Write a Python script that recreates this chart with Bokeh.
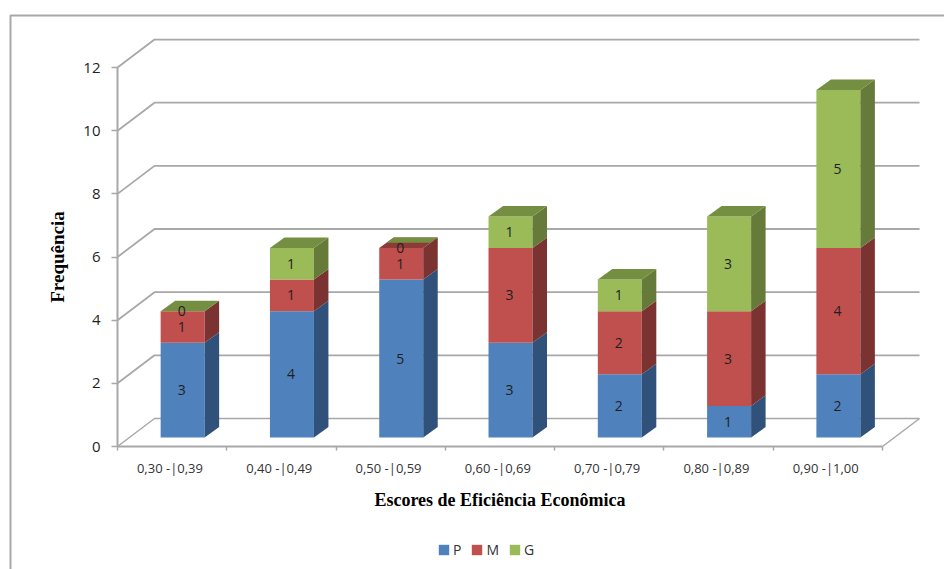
from bokeh.embed import file_html
from bokeh.resources import INLINE
from bokeh.core.properties import value
from bokeh.models import (ColumnDataSource, FixedTicker, Legend, LegendItem,
                          LinearAxis, Range1d)
from bokeh.plotting import figure

# Frequency table
classes = ["0,30 -|0,39", "0,40 -|0,49", "0,50 -|0,59", "0,60 -|0,69",
           "0,70 -|0,79", "0,80 -|0,89", "0,90 -|1,00"]
p_small = [3, 4, 5, 3, 2, 1, 2]
m_medium = [1, 1, 1, 3, 2, 3, 4]
g_large = [0, 1, 0, 1, 1, 3, 5]
y_ticks = list(range(0, 13, 2))
series_names = ["P", "M", "G"]
# Share of the cap that shows the green colour on each stack
green_cap_share = [1, 1, 0.5, 1, 1, 1, 1]

# Page geometry, in pixels
W, H = 944, 569
ORIGIN_X, ORIGIN_Y = 117, 446
PX_PER_CLASS = 109.29
PX_PER_UNIT = 31.58

# Depth of the box and of each column, in data units
WALL_DX, WALL_DY = 37 / PX_PER_CLASS, 28 / PX_PER_UNIT
BAR_W = 44 / PX_PER_CLASS
BAR_DX, BAR_DY = 14.5 / PX_PER_CLASS, 10.5 / PX_PER_UNIT
BAR_SHIFT_X, BAR_BASE = 10.5 / PX_PER_CLASS, 9 / PX_PER_UNIT

BLUE = ("#4F81BD", "#30527A", "#3A608F")
RED = ("#C0504D", "#7A3331", "#8C3B38")
GREEN = ("#9BBB59", "#667A3A", "#748E42")
GRID = "#A8A8A8"
TEXT = "#1F1F1F"


def px_x(px):
    return (px - ORIGIN_X) / PX_PER_CLASS


def px_y(px):
    return (ORIGIN_Y - px) / PX_PER_UNIT


p = figure(width=W, height=H, output_backend="svg", toolbar_location=None,
           x_range=Range1d(px_x(0), px_x(W)), y_range=Range1d(px_y(H), px_y(0)),
           x_axis_type=None, y_axis_type=None, min_border=0,
           outline_line_color=None, background_fill_color="white",
           border_fill_color="white")
p.grid.visible = False

# Outer chart border: left and top edges only reach the page bounds
p.line([px_x(10), px_x(10), px_x(W)], [px_y(H), px_y(15), px_y(15)],
       line_color=GRID, line_width=2)

# Wall gridlines, each with its diagonal onto the side wall
n = len(classes)
for t in y_ticks:
    p.line([0, WALL_DX, n + WALL_DX], [t, t + WALL_DY, t + WALL_DY],
           line_color=GRID, line_width=1.8 if t else 1.5)

# Floor edge on the right
p.line([n, n + WALL_DX], [0, WALL_DY], line_color=GRID, line_width=1.5)

# Stacked columns
stack = [0] * n
fronts = []
for values, (front, side, cap) in zip((p_small, m_medium, g_large), (BLUE, RED, GREEN)):
    xs = [i + 0.5 + BAR_SHIFT_X for i in range(n)]
    bottoms = [BAR_BASE + s for s in stack]
    tops = [b + v for b, v in zip(bottoms, values)]
    r = p.vbar(x=xs, width=BAR_W, bottom=bottoms, top=tops,
               fill_color=front, line_color=None)
    fronts.append(r)
    side_xs, side_ys = [], []
    for x, b, t in zip(xs, bottoms, tops):
        xr = x + BAR_W / 2
        side_xs.append([xr, xr + BAR_DX, xr + BAR_DX, xr])
        side_ys.append([b, b + BAR_DY, t + BAR_DY, t])
    p.patches(side_xs, side_ys, fill_color=side, line_color=None)
    stack = [s + v for s, v in zip(stack, values)]

# Caps on top of each stack
for i, total in enumerate(stack):
    x0 = i + 0.5 + BAR_SHIFT_X - BAR_W / 2
    y0 = BAR_BASE + total
    share = green_cap_share[i]
    if share < 1:
        p.patch([x0, x0 + BAR_W, x0 + BAR_W + BAR_DX, x0 + BAR_DX],
                [y0, y0, y0 + BAR_DY, y0 + BAR_DY],
                fill_color=RED[2], line_color=None)
    lo = 1 - share
    p.patch([x0 + lo * BAR_DX, x0 + BAR_W + lo * BAR_DX, x0 + BAR_W + BAR_DX, x0 + BAR_DX],
            [y0 + lo * BAR_DY, y0 + lo * BAR_DY, y0 + BAR_DY, y0 + BAR_DY],
            fill_color=GREEN[2], line_color=None)

# Value labels centred on each front segment
label_x, label_y, label_text = [], [], []
stack = [0] * n
for values in (p_small, m_medium, g_large):
    for i, v in enumerate(values):
        label_x.append(i + 0.5 + BAR_SHIFT_X - 1 / PX_PER_CLASS)
        label_y.append(BAR_BASE + stack[i] + v / 2)
        label_text.append(str(v))
        stack[i] += v
p.text(x="x", y="y", text="t",
       source=ColumnDataSource(dict(x=label_x, y=label_y, t=label_text)),
       text_font=value("Open Sans"), text_font_size="14px", text_color=TEXT,
       text_align="center", text_baseline="middle")

# Value axis
y_axis = LinearAxis(fixed_location=0, bounds=(0, 12),
                    ticker=FixedTicker(ticks=y_ticks),
                    axis_label="Frequência",
                    axis_label_text_font="Liberation Serif",
                    axis_label_text_font_style="bold",
                    axis_label_text_font_size="19px",
                    axis_label_text_color="#000000",
                    axis_label_standoff=12,
                    major_label_text_font="Open Sans",
                    major_label_text_font_size="15px",
                    major_label_text_color=TEXT,
                    major_label_standoff=11,
                    axis_line_color=GRID, axis_line_width=2,
                    major_tick_line_color=GRID, major_tick_line_width=1.5,
                    major_tick_in=0, major_tick_out=6,
                    minor_tick_line_color=None)
p.add_layout(y_axis, "left")

# Category axis: ticks fall between classes, labels at the class centres
centres = [i + 0.48 for i in range(n)]
x_axis = LinearAxis(fixed_location=0, bounds=(0, n),
                    ticker=FixedTicker(ticks=centres, minor_ticks=list(range(n + 1))),
                    major_label_overrides=dict(zip(centres, classes)),
                    axis_label="Escores de Eficiência Econômica",
                    axis_label_text_font="Liberation Serif",
                    axis_label_text_font_style="bold",
                    axis_label_text_font_size="18px",
                    axis_label_text_color="#000000",
                    axis_label_standoff=10,
                    major_label_text_font="Open Sans",
                    major_label_text_font_size="13px",
                    major_label_text_color="#333333",
                    major_label_standoff=6,
                    axis_line_color=GRID, axis_line_width=2,
                    major_tick_line_color=None,
                    minor_tick_line_color=GRID, minor_tick_line_width=1.5,
                    minor_tick_in=0, minor_tick_out=4)
p.add_layout(x_axis, "below")

# Legend glyphs are inset by a tenth on each side, hence the 13 px swatch box
legend = Legend(items=[LegendItem(label=name, renderers=[r])
                       for name, r in zip(series_names, fronts)],
                orientation="horizontal", location=(437, 10),
                glyph_width=13, glyph_height=13, label_standoff=3, spacing=9,
                padding=0, margin=0, border_line_color=None,
                background_fill_alpha=0,
                label_text_font="Open Sans", label_text_font_size="14px",
                label_text_color="#333333", label_height=10, label_width=0)
p.add_layout(legend, "center")

open("out.html", "w").write(file_html(p, INLINE))
